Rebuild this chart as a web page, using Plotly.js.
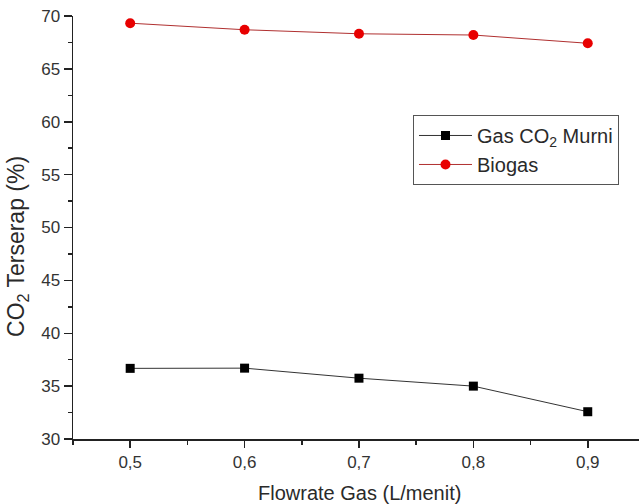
<!DOCTYPE html>
<html>
<head>
<meta charset="utf-8">
<script src="https://cdn.plot.ly/plotly-3.0.1.min.js"></script>
<style>html,body{margin:0;padding:0;background:#fff;}#chart{width:639px;height:504px;}</style>
</head>
<body>
<div id="chart"></div>
<script>
// Data
const flowrate = [0.5, 0.6, 0.7, 0.8, 0.9];
const gasCO2Murni = [36.68, 36.7, 35.75, 35.0, 32.58];
const biogas = [69.32, 68.7, 68.32, 68.2, 67.42];
const seriesNames = ['Gas CO<sub>2</sub> Murni', 'Biogas'];
const xTitle = 'Flowrate Gas (L/menit)';
const yTitle = 'CO<sub>2</sub> Terserap (%)';

const FONT = 'Liberation Sans, Arial, sans-serif';
const TXT = '#2a2a2a';
const AX = '#222';

const traces = [
  {
    x: flowrate, y: gasCO2Murni, name: seriesNames[0], type: 'scatter', mode: 'lines+markers',
    line: {color: '#333', width: 1},
    marker: {symbol: 'square', size: 9, color: '#000'}
  },
  {
    x: flowrate, y: biogas, name: seriesNames[1], type: 'scatter', mode: 'lines+markers',
    line: {color: '#b03030', width: 1},
    marker: {symbol: 'circle', size: 10, color: '#e80000'}
  }
];

const xr = [0.45, 0.9448];
const layout = {
  width: 639, height: 504,
  margin: {l: 73, r: 0, t: 16, b: 65},
  paper_bgcolor: '#fff', plot_bgcolor: '#fff',
  separators: ',.',
  font: {family: FONT, color: TXT},
  showlegend: true,
  legend: {
    x: 0.6007, y: 0.766, xanchor: 'left', yanchor: 'top',
    bordercolor: '#555', borderwidth: 1, bgcolor: '#fff',
    font: {family: FONT, size: 20, color: TXT},
    itemwidth: 53,
    tracegroupgap: 0
  },
  xaxis: {
    range: xr, tick0: 0.5, dtick: 0.1, tickformat: '.1f',
    ticks: 'outside', ticklen: 7, tickwidth: 1.5, tickcolor: AX,
    minor: {dtick: 0.05, ticks: 'outside', ticklen: 4, tickwidth: 1.5, tickcolor: AX},
    showline: true, linecolor: AX, linewidth: 1.5,
    showgrid: false, zeroline: false,
    tickfont: {family: FONT, size: 17, color: '#333'}
  },
  xaxis2: {
    overlaying: 'x', side: 'top', anchor: 'y', range: xr,
    tick0: 0.55, dtick: 0.1,
    ticks: 'inside', ticklen: 9, tickwidth: 1.5, tickcolor: AX,
    minor: {dtick: 0.05, ticks: 'inside', ticklen: 4, tickwidth: 1.5, tickcolor: AX},
    showticklabels: false, showline: true, linecolor: AX, linewidth: 1.5,
    showgrid: false, zeroline: false
  },
  yaxis: {
    range: [30, 70], tick0: 30, dtick: 5,
    ticks: 'outside', ticklen: 8, tickwidth: 1.5, tickcolor: AX,
    minor: {dtick: 2.5, ticks: 'outside', ticklen: 4, tickwidth: 1.5, tickcolor: AX},
    showline: true, linecolor: AX, linewidth: 1.5,
    showgrid: false, zeroline: false,
    tickfont: {family: FONT, size: 17, color: '#333'}
  },
  yaxis2: {
    overlaying: 'y', side: 'right', anchor: 'x', range: [0, 4.976],
    tick0: 0, dtick: 1,
    ticks: 'inside', ticklen: 5, tickwidth: 1.5, tickcolor: '#333',
    minor: {dtick: 0.5, ticks: 'inside', ticklen: 4, tickwidth: 1, tickcolor: '#bbb'},
    showticklabels: false, showline: false, showgrid: false, zeroline: false
  },
  annotations: [
    {text: xTitle, xref: 'paper', yref: 'paper', x: 0.507, y: -0.1277,
     xanchor: 'center', yanchor: 'middle', showarrow: false,
     font: {family: FONT, size: 20, color: TXT}},
    {text: yTitle, xref: 'paper', yref: 'paper', x: -0.0972, y: 0.4563,
     xanchor: 'center', yanchor: 'middle', showarrow: false, textangle: -90,
     font: {family: FONT, size: 23, color: TXT}}
  ]
};

Plotly.newPlot('chart', traces, layout, {displayModeBar: false, staticPlot: true});
</script>
</body>
</html>
